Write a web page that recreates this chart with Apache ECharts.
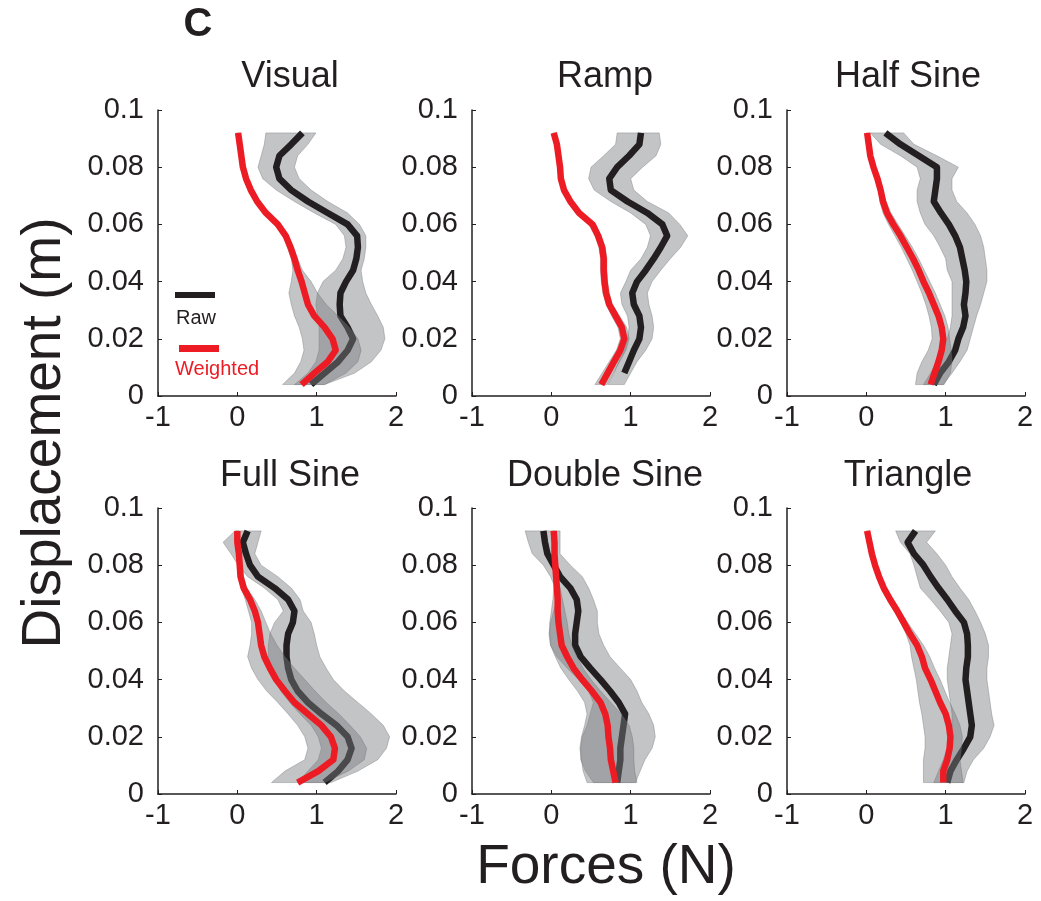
<!DOCTYPE html>
<html>
<head>
<meta charset="utf-8">
<script src="https://cdn.jsdelivr.net/npm/echarts@6/dist/echarts.min.js"></script>
<style>
  html, body { margin: 0; padding: 0; background: #fff; }
  #chart { width: 1041px; height: 901px; }
</style>
</head>
<body>
<div id="chart"></div>
<script>
// displacement samples (m), shared by every trace
const disp = [0.092, 0.088, 0.084, 0.080, 0.076, 0.072, 0.068, 0.064, 0.060, 0.056, 0.052, 0.048,
              0.044, 0.040, 0.036, 0.032, 0.028, 0.024, 0.020, 0.016, 0.012, 0.008, 0.004];

const panelTitles = ['Visual', 'Ramp', 'Half Sine', 'Full Sine', 'Double Sine', 'Triangle'];
const xTicks = [-1, 0, 1, 2];
const yTicks = [0, 0.02, 0.04, 0.06, 0.08, 0.1];

// Visual
const visualRawMean = [0.82,0.68,0.53,0.49,0.53,0.68,0.89,1.14,1.39,1.51,1.52,1.50,1.46,1.37,1.30,1.29,1.30,1.39,1.46,1.39,1.27,1.10,0.93];
const visualRawLo   = [0.36,0.34,0.30,0.26,0.32,0.49,0.72,0.97,1.24,1.35,1.37,1.33,1.24,1.08,1.01,0.99,1.01,1.03,1.03,1.03,0.99,0.89,0.72];
const visualRawHi   = [0.99,0.89,0.76,0.72,0.78,0.93,1.14,1.39,1.54,1.62,1.62,1.60,1.56,1.58,1.62,1.69,1.77,1.84,1.86,1.81,1.69,1.48,1.10];
const visualWtMean  = [0.01,0.03,0.05,0.07,0.11,0.17,0.25,0.36,0.51,0.61,0.67,0.72,0.76,0.81,0.85,0.89,0.97,1.10,1.20,1.24,1.14,0.97,0.81];
const visualWtLo    = [-0.01,0.02,0.03,0.05,0.08,0.14,0.23,0.33,0.47,0.58,0.63,0.68,0.70,0.68,0.65,0.68,0.72,0.78,0.82,0.84,0.80,0.72,0.57];
const visualWtHi    = [0.03,0.05,0.07,0.08,0.13,0.19,0.28,0.39,0.54,0.64,0.71,0.76,0.82,0.93,1.01,1.12,1.27,1.41,1.52,1.56,1.52,1.37,1.10];

// Ramp
const rampRawMean = [1.13,1.11,0.98,0.83,0.73,0.75,0.96,1.21,1.40,1.46,1.38,1.29,1.19,1.08,1.02,1.04,1.11,1.13,1.11,1.04,0.98,0.92,null];
const rampRawLo   = [0.83,0.81,0.66,0.50,0.47,0.54,0.75,1.00,1.19,1.25,1.21,1.13,1.00,0.94,0.87,0.89,0.96,0.98,0.96,0.92,0.85,0.79,0.71];
const rampRawHi   = [1.36,1.38,1.32,1.15,1.00,1.04,1.21,1.48,1.62,1.72,1.63,1.50,1.38,1.27,1.21,1.23,1.27,1.29,1.27,1.19,1.08,1.00,0.92];
const rampWtMean  = [0.03,0.07,0.09,0.11,0.12,0.16,0.24,0.35,0.52,0.59,0.64,0.66,0.66,0.67,0.69,0.73,0.81,0.89,0.92,0.87,0.79,0.71,0.63];
const rampWtLo    = [0.02,0.06,0.08,0.10,0.11,0.15,0.22,0.32,0.47,0.55,0.60,0.62,0.62,0.63,0.65,0.69,0.76,0.84,0.87,0.82,0.73,0.64,0.55];
const rampWtHi    = [0.04,0.08,0.10,0.12,0.13,0.17,0.26,0.38,0.56,0.63,0.68,0.70,0.70,0.71,0.73,0.77,0.86,0.95,0.98,0.94,0.86,0.78,0.70];

// Half Sine
const halfRawMean = [0.24,0.43,0.66,0.89,0.89,0.87,0.85,0.94,1.04,1.12,1.18,1.21,1.24,1.26,1.25,1.23,1.25,1.22,1.16,1.12,1.04,0.93,0.85];
const halfRawLo   = [0.05,0.18,0.43,0.64,0.68,0.64,0.64,0.68,0.74,0.85,0.93,1.00,1.02,1.08,1.08,1.08,1.08,1.06,1.02,0.95,0.89,0.81,0.72];
const halfRawHi   = [0.47,0.60,0.89,1.16,1.08,1.08,1.14,1.27,1.37,1.44,1.48,1.50,1.52,1.52,1.48,1.44,1.39,1.35,1.31,1.27,1.18,1.08,0.97];
const halfWtMean  = [0.01,0.03,0.05,0.09,0.14,0.18,0.21,0.26,0.34,0.43,0.51,0.59,0.66,0.72,0.79,0.85,0.91,0.95,0.97,0.95,0.91,0.86,0.81];
const halfWtLo    = [0.00,0.02,0.04,0.08,0.13,0.16,0.17,0.21,0.28,0.36,0.44,0.51,0.58,0.64,0.70,0.75,0.79,0.82,0.83,0.78,0.70,0.64,0.62];
const halfWtHi    = [0.02,0.04,0.06,0.10,0.15,0.20,0.25,0.31,0.40,0.49,0.58,0.66,0.73,0.80,0.87,0.93,0.99,1.03,1.05,1.07,1.08,1.06,0.98];

// Full Sine
const fullRawMean = [0.13,0.07,0.11,0.16,0.26,0.47,0.64,0.72,0.70,0.64,0.62,0.62,0.64,0.68,0.76,0.89,1.06,1.25,1.39,1.44,1.39,1.27,1.10];
const fullRawLo   = [-0.03,-0.18,-0.08,0.01,0.13,0.34,0.51,0.58,0.47,0.41,0.39,0.39,0.43,0.47,0.55,0.66,0.79,0.93,1.02,1.06,1.02,0.89,0.76];
const fullRawHi   = [0.30,0.26,0.22,0.30,0.51,0.68,0.79,0.83,0.93,0.97,1.00,1.04,1.12,1.21,1.35,1.52,1.69,1.84,1.92,1.88,1.77,1.52,1.18];
const fullWtMean  = [0.00,0.00,0.02,0.03,0.04,0.08,0.16,0.22,0.26,0.28,0.30,0.34,0.41,0.49,0.60,0.72,0.89,1.06,1.18,1.23,1.21,1.02,0.76];
const fullWtLo    = [-0.02,-0.02,0.00,0.01,0.02,0.05,0.10,0.14,0.18,0.18,0.16,0.13,0.18,0.26,0.37,0.51,0.64,0.76,0.85,0.89,0.85,0.60,0.43];
const fullWtHi    = [0.02,0.03,0.04,0.06,0.08,0.12,0.22,0.30,0.36,0.42,0.50,0.60,0.72,0.85,0.98,1.12,1.28,1.42,1.55,1.63,1.60,1.40,1.10];

// Double Sine
const doubleRawMean = [-0.10,-0.08,-0.05,0.03,0.11,0.24,0.32,0.34,0.32,0.30,0.30,0.37,0.49,0.62,0.74,0.85,0.93,0.91,0.89,0.87,0.87,0.85,0.83];
const doubleRawLo   = [-0.33,-0.29,-0.24,-0.10,-0.01,0.05,0.07,0.03,-0.01,-0.03,-0.01,0.07,0.20,0.34,0.47,0.53,0.49,0.45,0.39,0.37,0.37,0.43,0.53];
const doubleRawHi   = [0.11,0.11,0.11,0.24,0.39,0.47,0.53,0.58,0.58,0.60,0.66,0.74,0.87,1.00,1.08,1.14,1.23,1.29,1.31,1.27,1.18,1.12,1.06];
const doubleWtMean  = [0.03,0.04,0.04,0.05,0.06,0.07,0.08,0.08,0.09,0.11,0.13,0.20,0.28,0.39,0.51,0.62,0.68,0.71,0.72,0.74,0.75,0.78,0.81];
const doubleWtLo    = [0.02,0.03,0.03,0.04,0.04,0.03,0.02,0.00,-0.02,-0.02,-0.01,0.05,0.12,0.22,0.33,0.42,0.45,0.42,0.38,0.36,0.38,0.40,0.45];
const doubleWtHi    = [0.04,0.05,0.05,0.06,0.08,0.11,0.14,0.17,0.20,0.22,0.26,0.32,0.40,0.50,0.62,0.75,0.88,0.98,1.02,1.04,1.04,1.05,1.08];

// Triangle
const triRawMean = [0.62,0.52,0.60,0.72,0.81,0.91,1.02,1.12,1.23,1.27,1.28,1.28,1.26,1.25,1.27,1.29,1.31,1.33,1.31,1.23,1.14,1.06,1.02];
const triRawLo   = [0.37,0.43,0.55,0.60,0.64,0.68,0.81,0.93,1.04,1.08,1.06,1.04,1.02,1.02,1.04,1.06,1.08,1.08,1.06,1.02,0.97,0.91,0.85];
const triRawHi   = [0.87,0.76,0.89,1.00,1.08,1.18,1.29,1.37,1.44,1.50,1.54,1.54,1.52,1.52,1.54,1.56,1.58,1.61,1.56,1.48,1.35,1.27,1.23];
const triWtMean  = [0.01,0.04,0.07,0.11,0.16,0.22,0.30,0.39,0.47,0.55,0.64,0.70,0.74,0.81,0.87,0.93,1.00,1.04,1.06,1.05,1.02,0.97,0.97];
const triWtLo    = [0.00,0.03,0.06,0.10,0.15,0.20,0.27,0.35,0.43,0.50,0.55,0.57,0.60,0.63,0.65,0.67,0.70,0.72,0.74,0.74,0.72,0.72,0.72];
const triWtHi    = [0.02,0.05,0.08,0.12,0.17,0.24,0.33,0.43,0.52,0.62,0.72,0.80,0.86,0.93,0.99,1.05,1.12,1.18,1.21,1.20,1.18,1.20,1.22];

const panels = [
  { raw: [visualRawMean, visualRawLo, visualRawHi], wt: [visualWtMean, visualWtLo, visualWtHi] },
  { raw: [rampRawMean, rampRawLo, rampRawHi],       wt: [rampWtMean, rampWtLo, rampWtHi] },
  { raw: [halfRawMean, halfRawLo, halfRawHi],       wt: [halfWtMean, halfWtLo, halfWtHi] },
  { raw: [fullRawMean, fullRawLo, fullRawHi],       wt: [fullWtMean, fullWtLo, fullWtHi] },
  { raw: [doubleRawMean, doubleRawLo, doubleRawHi], wt: [doubleWtMean, doubleWtLo, doubleWtHi] },
  { raw: [triRawMean, triRawLo, triRawHi],          wt: [triWtMean, triWtLo, triWtHi] }
];

const INK = '#231f20';
const RED = '#ed1c24';
const FONT = '"Liberation Sans", Arial, Helvetica, sans-serif';

const colLeft = [158, 472, 787];
const rowTop = [110, 508];
const plotW = 238, plotH = 286;

function pairs(xs) {
  return xs.map((x, i) => (x == null ? null : [x, disp[i]])).filter(Boolean);
}

// shaded spread: one polygon, left edge down then right edge back up
function band(lo, hi, idx, z) {
  const pts = lo.map((l, i) => [l, hi[i], disp[i]]);
  return {
    type: 'custom', xAxisIndex: idx, yAxisIndex: idx, z: z, silent: true,
    data: pts,
    encode: { x: [0, 1], y: 2 },
    renderItem: function (params, api) {
      if (params.dataIndex !== 0) return;
      const left = pts.map(p => api.coord([p[0], p[2]]));
      const right = pts.map(p => api.coord([p[1], p[2]])).reverse();
      return {
        type: 'polygon',
        shape: { points: left.concat(right) },
        style: { fill: 'rgba(122,124,128,0.45)', stroke: 'rgba(100,102,105,0.5)', lineWidth: 0.7 }
      };
    }
  };
}

function meanLine(xs, idx, color, z) {
  return {
    type: 'line', xAxisIndex: idx, yAxisIndex: idx, z: z, silent: true,
    data: pairs(xs), showSymbol: false, symbol: 'none',
    lineStyle: { color: color, width: 6.5, join: 'round' }
  };
}

const grids = [], xAxes = [], yAxes = [], series = [], graphics = [];

panels.forEach((p, i) => {
  const col = i % 3, row = Math.floor(i / 3);
  grids.push({ left: colLeft[col], top: rowTop[row], width: plotW, height: plotH });
  xAxes.push({
    gridIndex: i, type: 'value', min: xTicks[0], max: xTicks[xTicks.length - 1], interval: 1,
    axisLine: { show: true, onZero: false, lineStyle: { color: INK, width: 1.5 } },
    axisTick: { show: true, inside: true, length: 4, lineStyle: { color: INK, width: 1 } },
    axisLabel: { fontSize: 29, color: INK, fontFamily: FONT, margin: 7 },
    splitLine: { show: false }
  });
  yAxes.push({
    gridIndex: i, type: 'value', min: yTicks[0], max: yTicks[yTicks.length - 1], interval: 0.02,
    axisLine: { show: true, onZero: false, lineStyle: { color: INK, width: 1.5 } },
    axisTick: { show: true, inside: true, length: 4, lineStyle: { color: INK, width: 1 } },
    axisLabel: { fontSize: 29, color: INK, fontFamily: FONT, margin: 14 },
    splitLine: { show: false }
  });
  series.push(band(p.raw[1], p.raw[2], i, 2));
  series.push(meanLine(p.raw[0], i, INK, 3));
  series.push(band(p.wt[1], p.wt[2], i, 4));
  series.push(meanLine(p.wt[0], i, RED, 5));

  graphics.push({
    type: 'text', x: [290, 605, 908][col], y: [77, 476][row],
    style: { text: panelTitles[i], font: '36px ' + FONT, fill: INK,
             textAlign: 'center', textVerticalAlign: 'middle', align: 'center', verticalAlign: 'middle' }
  });
});

// panel letter, shared axis names and legend
graphics.push(
  { type: 'text', x: 198, y: 25,
    style: { text: 'C', font: 'bold 40px ' + FONT, fill: INK, textAlign: 'center', textVerticalAlign: 'middle', align: 'center', verticalAlign: 'middle' } },
  { type: 'text', x: 45, y: 433, rotation: Math.PI / 2,
    style: { text: 'Displacement (m)', font: '55px ' + FONT, fill: INK, textAlign: 'center', textVerticalAlign: 'middle', align: 'center', verticalAlign: 'middle' } },
  { type: 'text', x: 606, y: 868,
    style: { text: 'Forces (N)', font: '55px ' + FONT, fill: INK, textAlign: 'center', textVerticalAlign: 'middle', align: 'center', verticalAlign: 'middle' } },
  { type: 'rect', shape: { x: 175, y: 292, width: 40, height: 6 }, style: { fill: INK } },
  { type: 'text', x: 176, y: 318,
    style: { text: 'Raw', font: '20px ' + FONT, fill: INK, textAlign: 'left', textVerticalAlign: 'middle', align: 'left', verticalAlign: 'middle' } },
  { type: 'rect', shape: { x: 179, y: 345, width: 40, height: 7 }, style: { fill: RED } },
  { type: 'text', x: 175, y: 369,
    style: { text: 'Weighted', font: '20px ' + FONT, fill: RED, textAlign: 'left', textVerticalAlign: 'middle', align: 'left', verticalAlign: 'middle' } }
);

const chart = echarts.init(document.getElementById('chart'), null, { renderer: 'canvas' });
chart.setOption({
  backgroundColor: '#ffffff',
  animation: false,
  grid: grids,
  xAxis: xAxes,
  yAxis: yAxes,
  series: series,
  graphic: graphics
});
</script>
</body>
</html>
